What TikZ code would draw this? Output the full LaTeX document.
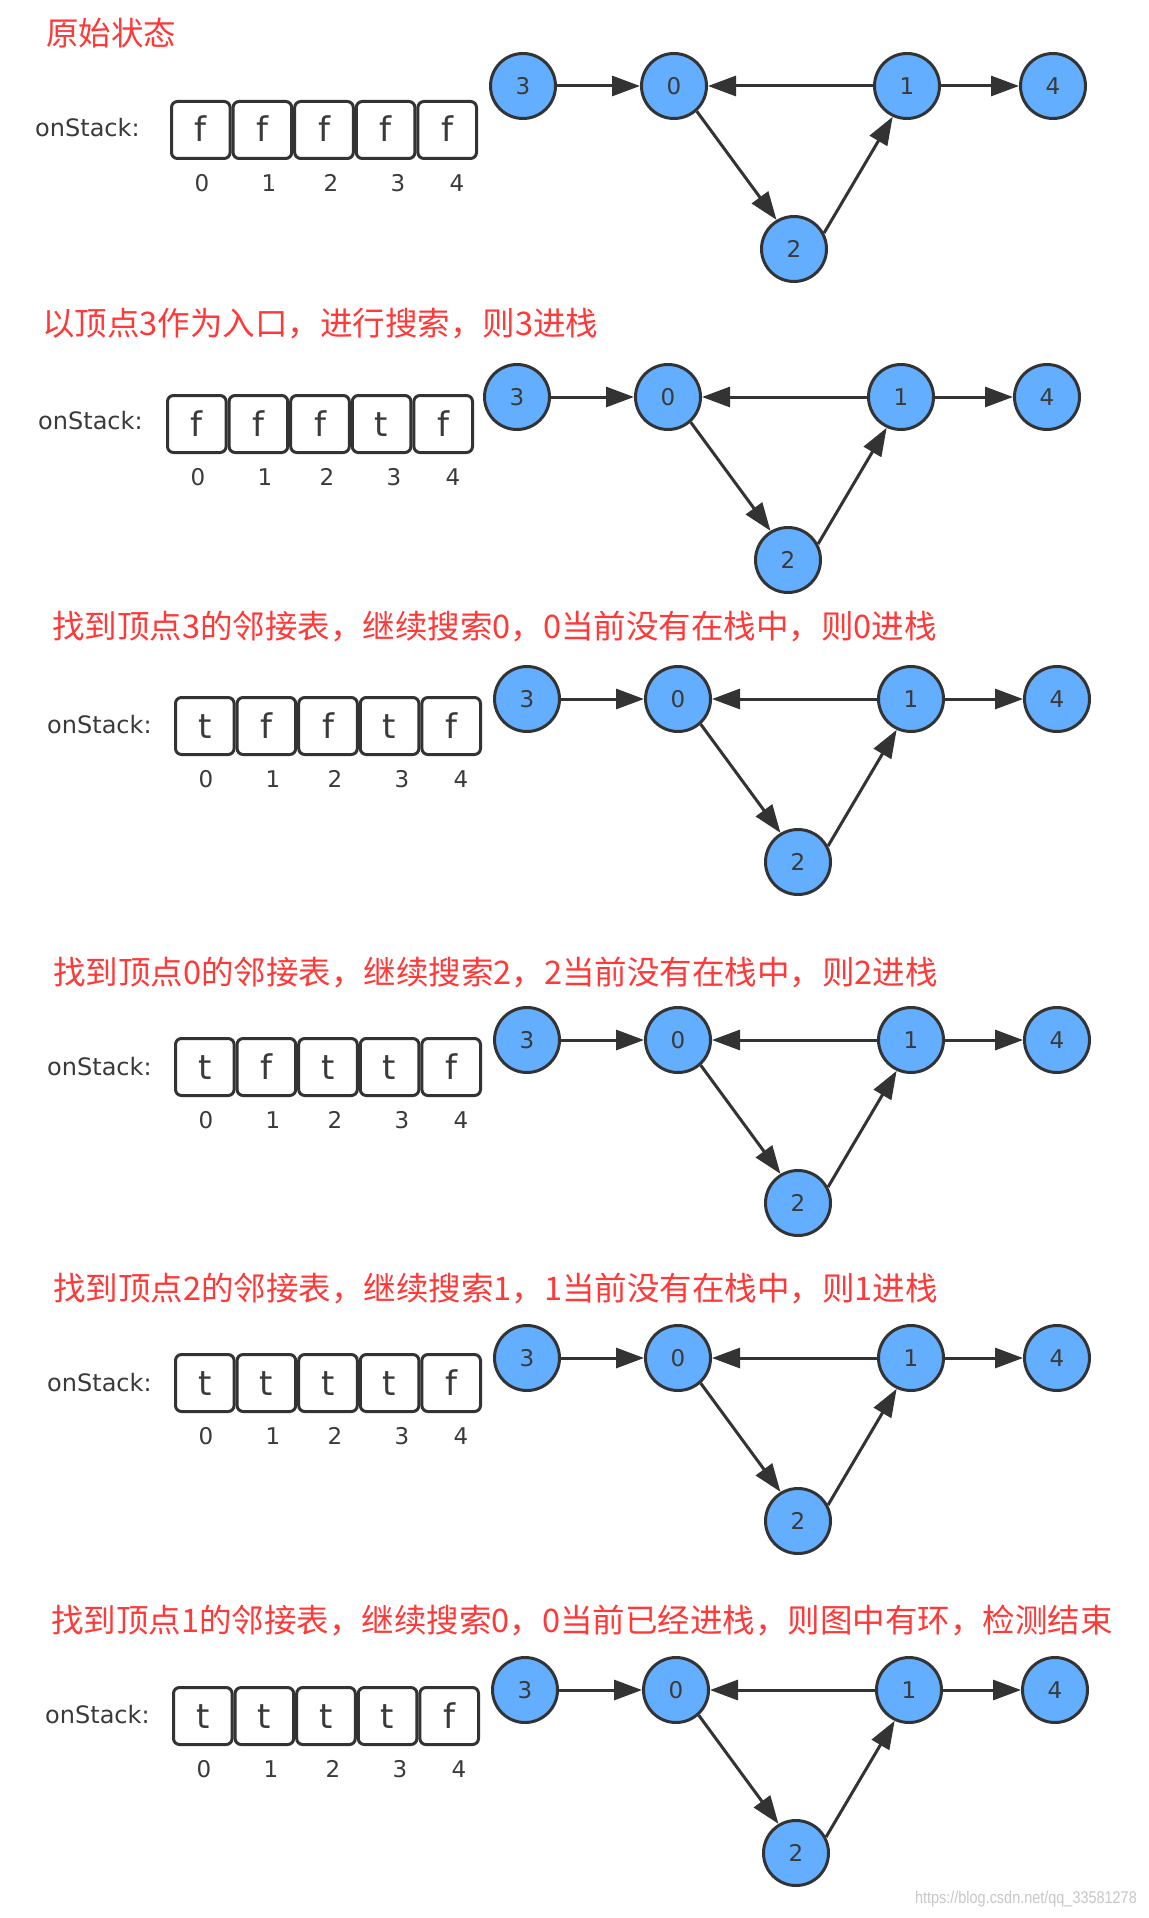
\documentclass[tikz,border=0pt]{standalone}
\usepackage{fontspec}
\setmainfont{DejaVu Sans}
\newfontfamily\cjkf{Noto Sans CJK SC}
\newfontfamily\wmf{Liberation Sans}
\usetikzlibrary{arrows.meta}
\definecolor{linec}{HTML}{333333}
\definecolor{nodeblue}{HTML}{63AEFF}
\definecolor{titlered}{HTML}{FF3838}
\definecolor{txtc}{HTML}{3A3A3A}
\tikzset{
  gnode/.style={circle, draw=linec, fill=nodeblue, line width=3pt, minimum size=65pt, inner sep=0pt,
    font=\fontsize{23pt}{27pt}\selectfont, text=txtc},
  edge/.style={draw=linec, line width=3pt, -{Triangle[length=28pt,width=20pt]}},
  cell/.style={draw=linec, rounded corners=6pt, line width=3pt, minimum width=58.6pt, minimum height=57pt,
    inner sep=0pt, text height=24pt, text depth=0pt, font=\fontsize{34pt}{40pt}\selectfont, text=txtc},
  idx/.style={inner sep=0pt, font=\fontsize{23pt}{27pt}\selectfont, text=txtc},
  steptitle/.style={anchor=west, inner sep=0pt, text=titlered, font=\cjkf\fontsize{32.5pt}{38pt}\selectfont},
  stacklabel/.style={anchor=west, inner sep=0pt, text=txtc, font=\fontsize{24pt}{28pt}\selectfont}
}
\newcommand\graphpanel[3]{%
  \node[gnode] (#1n3) at (#2,#3) {3};
  \node[gnode] (#1n0) at ({#2+151},#3) {0};
  \node[gnode] (#1n1) at ({#2+384},#3) {1};
  \node[gnode] (#1n4) at ({#2+530},#3) {4};
  \node[gnode] (#1n2) at ({#2+271},{#3+163}) {2};
  \draw[edge] (#1n3) -- (#1n0);
  \draw[edge] (#1n1) -- (#1n0);
  \draw[edge] (#1n1) -- (#1n4);
  \draw[edge] (#1n0.-48) -- (#1n2.121);
  \draw[edge] (#1n2.28) -- (#1n1.245);
}
\newcommand\stackpanel[8]{%
  \node[cell] (#1b0) at ({#2+30.8},{#3+30}) {#4};
  \node[cell] (#1b1) at ({#2+92.4},{#3+30}) {#5};
  \node[cell] (#1b2) at ({#2+154},{#3+30}) {#6};
  \node[cell] (#1b3) at ({#2+215.6},{#3+30}) {#7};
  \node[cell] (#1b4) at ({#2+277.2},{#3+30}) {#8};
  \node[idx] (#1i0) at ({#2+32},{#3+83}) {0};
  \node[idx] (#1i1) at ({#2+99},{#3+83}) {1};
  \node[idx] (#1i2) at ({#2+161},{#3+83}) {2};
  \node[idx] (#1i3) at ({#2+228},{#3+83}) {3};
  \node[idx] (#1i4) at ({#2+287},{#3+83}) {4};
}
\begin{document}
\begin{tikzpicture}[x=1pt,y=-1pt]
\fill[white] (0,0) rectangle (1148,1918);
\useasboundingbox (0,0) rectangle (1148,1918);

% panel 1
\node[steptitle] (t1) at (46,33) {原始状态};
\node[stacklabel] (s1) at (35,128) {onStack:};
\stackpanel{a}{170}{100}{f}{f}{f}{f}{f}
\graphpanel{a}{523}{86}

% panel 2
\node[steptitle] (t2) at (42,324) {以顶点3作为入口，进行搜索，则3进栈};
\node[stacklabel] (s2) at (38,421) {onStack:};
\stackpanel{b}{166}{394}{f}{f}{f}{t}{f}
\graphpanel{b}{517}{397}

% panel 3
\node[steptitle] (t3) at (52,627) {找到顶点3的邻接表，继续搜索0，0当前没有在栈中，则0进栈};
\node[stacklabel] (s3) at (47,725) {onStack:};
\stackpanel{c}{174}{696}{t}{f}{f}{t}{f}
\graphpanel{c}{527}{699}

% panel 4
\node[steptitle] (t4) at (53,972) {找到顶点0的邻接表，继续搜索2，2当前没有在栈中，则2进栈};
\node[stacklabel] (s4) at (47,1067) {onStack:};
\stackpanel{d}{174}{1037}{t}{f}{t}{t}{f}
\graphpanel{d}{527}{1040}

% panel 5
\node[steptitle] (t5) at (53,1288) {找到顶点2的邻接表，继续搜索1，1当前没有在栈中，则1进栈};
\node[stacklabel] (s5) at (47,1383) {onStack:};
\stackpanel{e}{174}{1353}{t}{t}{t}{t}{f}
\graphpanel{e}{527}{1358}

% panel 6
\node[steptitle] (t6) at (51,1620) {找到顶点1的邻接表，继续搜索0，0当前已经进栈，则图中有环，检测结束};
\node[stacklabel] (s6) at (45,1715) {onStack:};
\stackpanel{g}{172}{1686}{t}{t}{t}{t}{f}
\graphpanel{g}{525}{1690}

% watermark
\node[anchor=east, inner sep=0pt, text=black!22, font=\wmf\fontsize{17pt}{20pt}\selectfont] (wm) at (1137,1899) {\scalebox{0.85}[1]{https://blog.csdn.net/qq\_33581278}};
\end{tikzpicture}
\end{document}
